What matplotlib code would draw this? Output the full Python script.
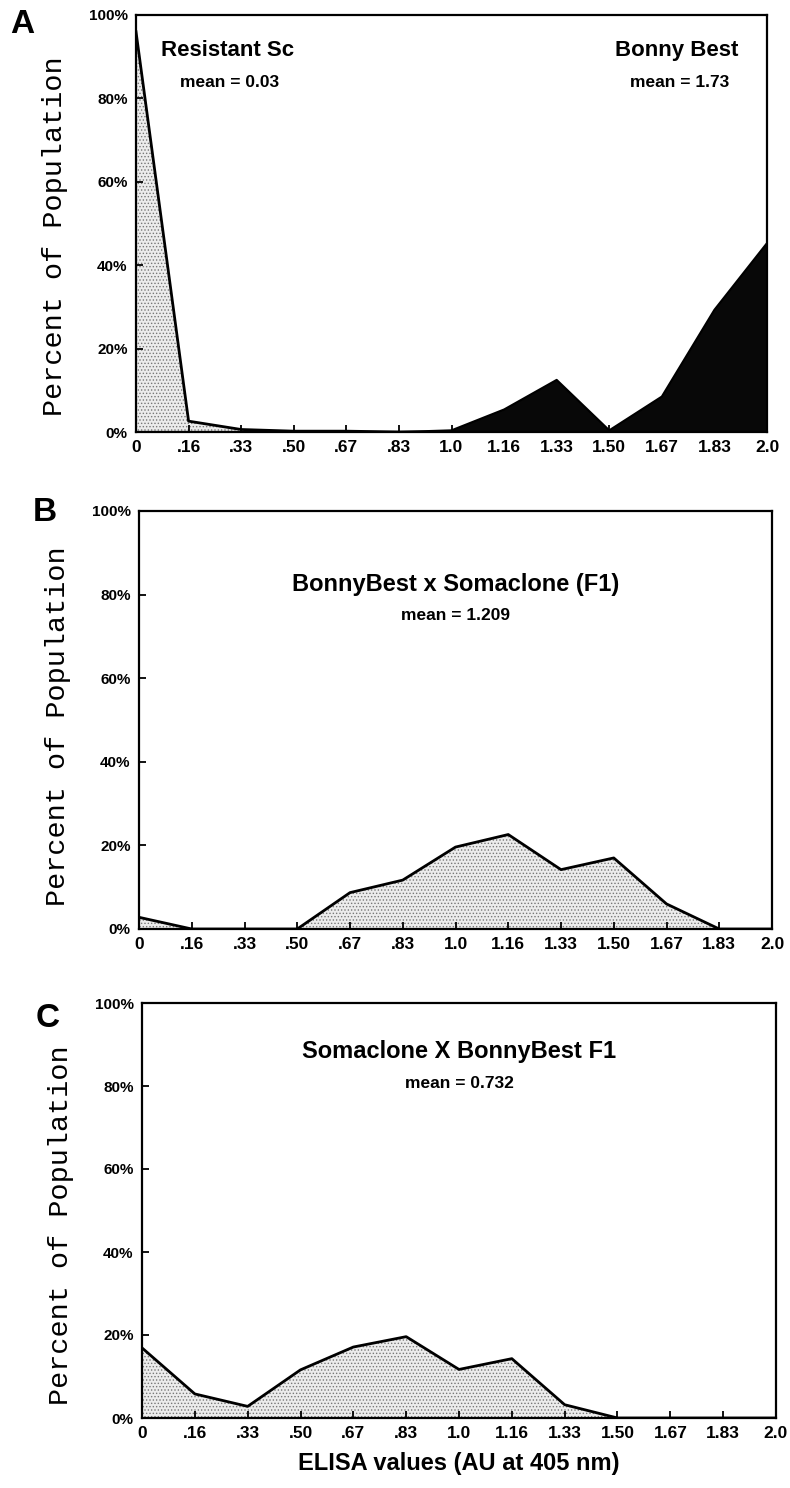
import matplotlib
matplotlib.use("Agg")
import matplotlib.pyplot as plt

plt.rcParams['hatch.linewidth'] = 0.6

# ELISA classes (AU at 405 nm)
elisa_labels = ['0', '.16', '.33', '.50', '.67', '.83', '1.0',
                '1.16', '1.33', '1.50', '1.67', '1.83', '2.0']
y_labels = ['0%', '20%', '40%', '60%', '80%', '100%']

# percent of population per class
resistant_sc = [96, 2.6, 0.6, 0.2, 0.2, 0, 0, 0, 0, 0, 0, 0, 0]
bonny_best = [0, 0, 0, 0, 0, 0, 0.4, 5.4, 12.5, 0.4, 8.5, 29.3, 45.3]
bb_x_soma = [2.8, 0, 0, 0, 8.7, 11.7, 19.6, 22.6, 14.2, 17.0, 6.0, 0, 0]
soma_x_bb = [16.9, 5.8, 2.8, 11.6, 17.1, 19.6, 11.7, 14.3, 3.2, 0, 0, 0, 0]

W, H = 790, 1488
fig = plt.figure(figsize=(W / 100, H / 100), dpi=100)

bold = dict(family='Liberation Sans', fontweight='heavy')


def make_axes(left, right, top, bottom, label_y):
    ax = fig.add_axes([left / W, 1 - bottom / H, (right - left) / W, (bottom - top) / H])
    x = range(len(elisa_labels))
    ax.set_xlim(0, len(elisa_labels) - 1)
    ax.set_ylim(0, 100)
    ax.set_xticks(list(x))
    ax.set_xticklabels(elisa_labels, fontsize=12.5, **bold)
    ax.set_yticks([0, 20, 40, 60, 80, 100])
    ax.set_yticklabels(y_labels, fontsize=11, **bold)
    ax.tick_params(direction='in', length=5, width=1.3, pad=6)
    for s in ax.spines.values():
        s.set_linewidth(1.6)
    ax.set_ylabel('Percent of Population', family='Liberation Mono',
                  fontsize=20.5)
    # label centre sits a little below the axes middle in the original
    ax.yaxis.set_label_coords(-0.108, label_y)
    return ax


def stipple(ax, values):
    x = range(len(values))
    ax.fill_between(x, 0, values, facecolor='#ececec', edgecolor='#777777',
                    hatch='.....', linewidth=0, zorder=1)
    ax.plot(x, values, color='black', lw=2.0, zorder=3)


# A
axA = make_axes(136, 767, 15, 432, 0.47)
stipple(axA, resistant_sc)
xs = range(len(bonny_best))
axA.fill_between(xs, 0, bonny_best, facecolor='#080808', linewidth=0, zorder=2)
axA.plot(xs, bonny_best, color='black', lw=1.5, zorder=3)
axA.text(0.04, 0.916, 'Resistant Sc', transform=axA.transAxes, fontsize=16,
         va='center', **bold)
axA.text(0.07, 0.839, 'mean = 0.03', transform=axA.transAxes, fontsize=12.5,
         va='center', **bold)
axA.text(0.955, 0.916, 'Bonny Best', transform=axA.transAxes, fontsize=16,
         ha='right', va='center', **bold)
axA.text(0.94, 0.839, 'mean = 1.73', transform=axA.transAxes, fontsize=12.5,
         ha='right', va='center', **bold)
fig.text(10 / W, 1 - 33 / H, 'A', fontsize=24, **bold)

# B
axB = make_axes(139, 772, 511, 929, 0.485)
stipple(axB, bb_x_soma)
axB.text(0.5, 0.825, 'BonnyBest x Somaclone (F1)', transform=axB.transAxes,
         fontsize=17, ha='center', va='center', **bold)
axB.text(0.5, 0.749, 'mean = 1.209', transform=axB.transAxes,
         fontsize=12.5, ha='center', va='center', **bold)
fig.text(33 / W, 1 - 521 / H, 'B', fontsize=24, **bold)

# C
axC = make_axes(142, 776, 1003, 1418, 0.465)
stipple(axC, soma_x_bb)
axC.text(0.5, 0.882, 'Somaclone X BonnyBest F1', transform=axC.transAxes,
         fontsize=17, ha='center', va='center', **bold)
axC.text(0.5, 0.807, 'mean = 0.732', transform=axC.transAxes,
         fontsize=12.5, ha='center', va='center', **bold)
axC.set_xlabel('ELISA values (AU at 405 nm)', fontsize=17, labelpad=8, **bold)
fig.text(36 / W, 1 - 1027 / H, 'C', fontsize=24, **bold)

fig.savefig('out.png', dpi=100, facecolor='white')
